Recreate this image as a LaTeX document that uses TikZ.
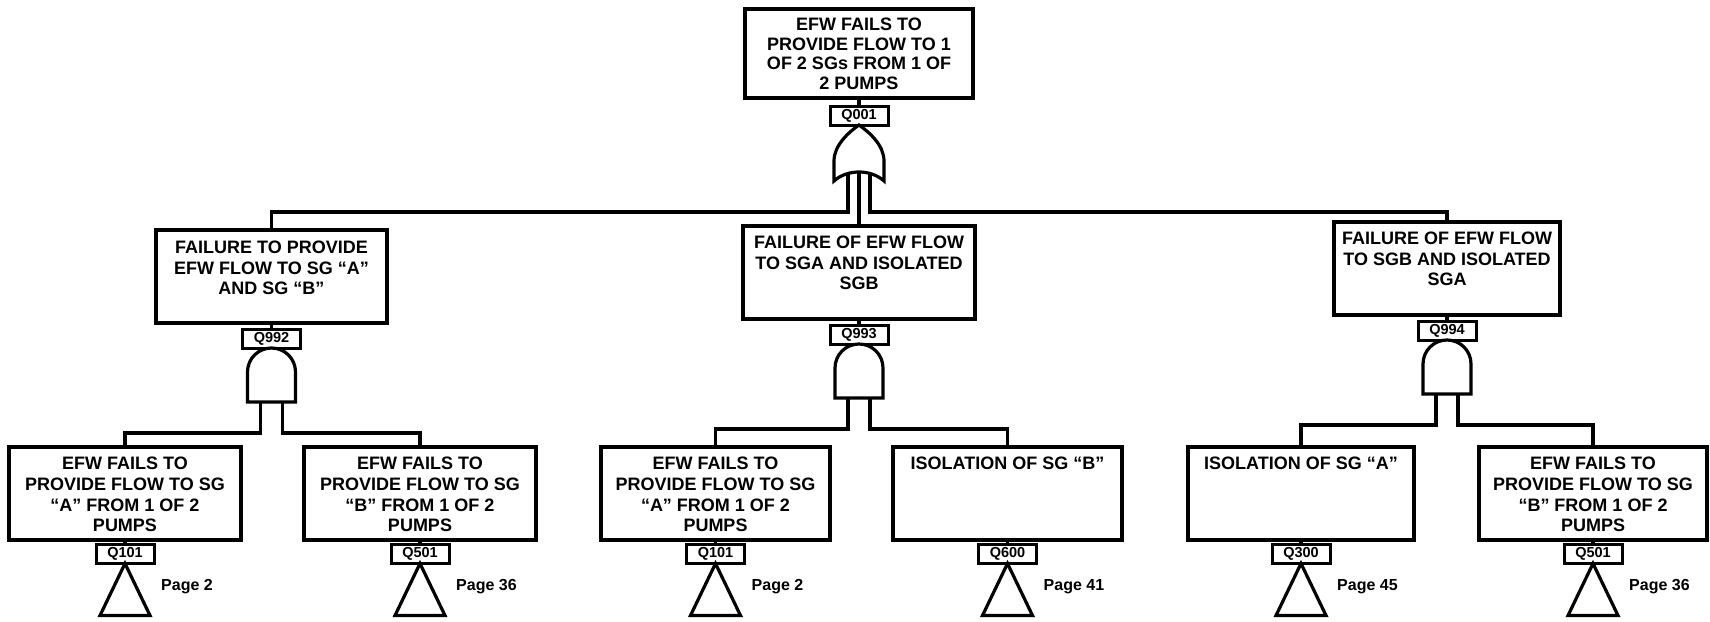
\documentclass[tikz,border=0pt]{standalone}
\usepackage{fontspec}
\setmainfont{Liberation Sans}

% event box contents: width, height, top padding, line spacing, text
\newcommand\evtext[5]{\parbox[c][#2pt][t]{#1pt}{\centering\fontsize{18}{#4}\selectfont\bfseries\vspace*{#3pt}#5\par}}

\begin{document}
\begin{tikzpicture}[x=1pt,y=-1pt,
  evt/.style={draw, line width=3.2pt, inner sep=0pt, outer sep=0pt},
  qbox/.style={draw, line width=3pt, fill=white, minimum width=58pt, minimum height=19pt,
    inner sep=0pt, outer sep=0pt, font=\bfseries\fontsize{14.5}{15}\selectfont},
  wire/.style={line width=3.2pt},
  gate/.style={line width=3.2pt, fill=white},
  pg/.style={anchor=west, inner sep=0pt, font=\bfseries\fontsize{16}{17}\selectfont}
]
\useasboundingbox (0,0) rectangle (1710,621);

% ---------- gate shapes ----------
\newcommand\orgate[3]{%
  \begin{scope}[shift={(#1,#2)}]
    \draw[gate] (0,0) .. controls (10,7) and (25,20) .. (25,36) -- (25,56)
      .. controls (12,44) and (-12,44) .. (-25,56) -- (-25,36)
      .. controls (-25,20) and (-10,7) .. (0,0) -- cycle;
    \coordinate (#3-l) at (-11,49);
    \coordinate (#3-m) at (0,47);
    \coordinate (#3-r) at (11,49);
  \end{scope}}
\newcommand\andgate[3]{%
  \begin{scope}[shift={(#1,#2)}]
    \draw[gate] (-24,54) -- (-24,24) .. controls (-24,10.7) and (-13.3,0) .. (0,0)
      .. controls (13.3,0) and (24,10.7) .. (24,24) -- (24,54) -- cycle;
    \coordinate (#3-l) at (-11,54);
    \coordinate (#3-r) at (11,54);
  \end{scope}}

% ---------- top event ----------
\node[evt] (top) at (859,53.5) {\evtext{228}{89}{9}{19.6}{EFW FAILS TO\\PROVIDE FLOW TO 1\\OF 2 SGs FROM 1 OF\\2 PUMPS}};
\node[qbox] (q001) at (859,115.5) {Q001};
\draw[wire] (top.south) -- (q001.north);
\orgate{859}{125}{org}

% ---------- second level ----------
\node[evt] (l2a) at (271.5,276.5) {\evtext{231}{93}{11}{20.5}{FAILURE TO PROVIDE\\EFW FLOW TO SG ``A''\\AND SG ``B''}};
\node[evt] (l2b) at (859,272.5) {\evtext{232}{93}{10}{20.5}{FAILURE OF EFW FLOW\\TO SGA AND ISOLATED\\SGB}};
\node[evt] (l2c) at (1447,268.5) {\evtext{226}{93}{10}{20.5}{FAILURE OF EFW FLOW\\TO SGB AND ISOLATED\\SGA}};

\coordinate (busA) at (0,212);
\draw[wire] (org-l) -- (org-l |- busA) -| (l2a.north);
\draw[wire] (org-m) -- (l2b.north);
\draw[wire] (org-r) -- (org-r |- busA) -| (l2c.north);

\node[qbox] (q992) at (271.5,338.5) {Q992};
\node[qbox] (q993) at (859,334.5) {Q993};
\node[qbox] (q994) at (1447,330.5) {Q994};
\draw[wire] (l2a.south) -- (q992.north);
\draw[wire] (l2b.south) -- (q993.north);
\draw[wire] (l2c.south) -- (q994.north);

\andgate{271.5}{348}{anda}
\andgate{859}{344}{andb}
\andgate{1447}{340}{andc}

% ---------- third level ----------
\node[evt] (b1) at (125,493.5)  {\evtext{232}{93}{10}{20.8}{EFW FAILS TO\\PROVIDE FLOW TO SG\\``A'' FROM 1 OF 2\\PUMPS}};
\node[evt] (b2) at (420,493.5)  {\evtext{232}{93}{10}{20.8}{EFW FAILS TO\\PROVIDE FLOW TO SG\\``B'' FROM 1 OF 2\\PUMPS}};
\node[evt] (b3) at (715.5,493.5) {\evtext{229}{93}{10}{20.8}{EFW FAILS TO\\PROVIDE FLOW TO SG\\``A'' FROM 1 OF 2\\PUMPS}};
\node[evt] (b4) at (1007.5,493.5) {\evtext{229}{93}{10}{20.8}{ISOLATION OF SG ``B''}};
\node[evt] (b5) at (1301,493.5) {\evtext{226}{93}{10}{20.8}{ISOLATION OF SG ``A''}};
\node[evt] (b6) at (1593,493.5) {\evtext{228}{93}{10}{20.8}{EFW FAILS TO\\PROVIDE FLOW TO SG\\``B'' FROM 1 OF 2\\PUMPS}};

\coordinate (busB) at (0,433);
\coordinate (busC) at (0,429);
\coordinate (busD) at (0,425);
\draw[wire] (anda-l) -- (anda-l |- busB) -| (b1.north);
\draw[wire] (anda-r) -- (anda-r |- busB) -| (b2.north);
\draw[wire] (andb-l) -- (andb-l |- busC) -| (b3.north);
\draw[wire] (andb-r) -- (andb-r |- busC) -| (b4.north);
\draw[wire] (andc-l) -- (andc-l |- busD) -| (b5.north);
\draw[wire] (andc-r) -- (andc-r |- busD) -| (b6.north);

% ---------- transfer symbols ----------
\foreach \b/\q/\p in {b1/Q101/2, b2/Q501/36, b3/Q101/2, b4/Q600/41, b5/Q300/45, b6/Q501/36}{
  \node[qbox] (\b-q) at ([yshift=-14pt]\b.south) {\q};
  \draw[wire] (\b.south) -- (\b-q.north);
  \draw[wire] (\b-q.south) -- ++(-25,52) -- ++(50,0) -- cycle;
  \node[pg] (\b-pg) at ([xshift=36pt,yshift=-23pt]\b-q.south) {Page \p};
}
\end{tikzpicture}
\end{document}
